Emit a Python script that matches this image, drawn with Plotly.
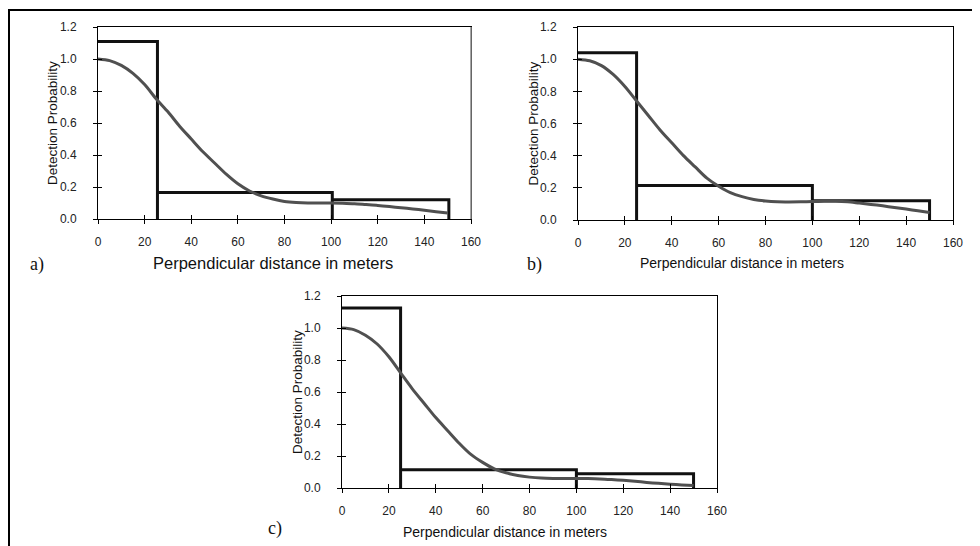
import plotly.graph_objects as go

# distance grid (m) and fitted detection curves
dist = list(range(0, 155, 5))
g_a = [1.0, 0.99, 0.96, 0.91, 0.84, 0.75, 0.67, 0.58, 0.50, 0.42, 0.35, 0.28, 0.22, 0.175, 0.145, 0.125,
       0.11, 0.103, 0.1, 0.1, 0.1, 0.098, 0.095, 0.09, 0.085, 0.078, 0.07, 0.063, 0.055, 0.046, 0.037]
g_b = [1.0, 0.99, 0.96, 0.905, 0.83, 0.74, 0.65, 0.56, 0.48, 0.40, 0.33, 0.26, 0.21, 0.17, 0.145, 0.128,
       0.118, 0.113, 0.112, 0.113, 0.115, 0.117, 0.117, 0.113, 0.105, 0.097, 0.088, 0.078, 0.068, 0.057, 0.046]
g_c = [1.0, 0.99, 0.955, 0.9, 0.82, 0.72, 0.62, 0.53, 0.44, 0.36, 0.28, 0.21, 0.16, 0.12, 0.095, 0.078,
       0.068, 0.062, 0.06, 0.06, 0.06, 0.059, 0.057, 0.053, 0.048, 0.042, 0.035, 0.029, 0.024, 0.019, 0.015]

# histogram bins (scaled frequencies)
edges_a = [0, 25.5, 100.5, 150.5]
edges = [0, 25, 100, 150]
bars_a = [1.11, 0.165, 0.12]
bars_b = [1.04, 0.214, 0.12]
bars_c = [1.125, 0.114, 0.089]

# the page body has an 8px margin, so the figure is a bit smaller and
# positions are given in page pixels then converted
W, H, OFF = 972, 538, 8


def px(x):
    return (x - OFF) / W


def py(y):
    return 1 - (y - OFF) / H


# label, edges, bars, curve, plot box (left, right, top, bottom) in page px,
# title x, title y, title size, panel letter pos
panels = [
    ('a)', edges_a, bars_a, g_a, (98, 471, 27, 219), 273, 263, 16.5, (37, 264)),
    ('b)', edges, bars_b, g_b, (578, 953, 27, 220), 742, 263, 14, (534, 264)),
    ('c)', edges, bars_c, g_c, (342, 717, 296, 488), 505, 532, 14, (275, 528)),
]


def step_path(e, h):
    xs = [e[0], e[1], e[1]]
    ys = [h[0], h[0], 0]
    for i in range(1, len(h)):
        xs += [e[i], e[i + 1], e[i + 1]]
        ys += [h[i], h[i], 0]
    return xs, ys


fig = go.Figure()
tickfont = dict(family='Liberation Sans, Arial', size=12, color='#222')
annots = []
shapes = []

for i, (lab, e, h, g, box, tx, ty, tsize, lpos) in enumerate(panels):
    n = i + 1
    sx = '' if n == 1 else str(n)
    ox = str(n + 3)
    dx = [px(box[0]), px(box[1])]
    dy = [py(box[3]), py(box[2])]
    xs, ys = step_path(e, h)
    fig.add_trace(go.Scatter(x=xs, y=ys, mode='lines', line=dict(color='#111', width=3),
                             xaxis='x' + sx, yaxis='y' + sx, showlegend=False, hoverinfo='skip'))
    fig.add_trace(go.Scatter(x=dist, y=g, mode='lines', line=dict(color='#505050', width=3, shape='spline',
                                                                  smoothing=0.8),
                             xaxis='x' + sx, yaxis='y' + sx, showlegend=False))
    # invisible trace so the inner-tick overlay axes get drawn
    fig.add_trace(go.Scatter(x=[0], y=[0], mode='markers', marker=dict(opacity=0),
                             xaxis='x' + ox, yaxis='y' + ox, showlegend=False, hoverinfo='skip'))

    fig.layout['xaxis' + sx] = dict(domain=dx, anchor='y' + sx, range=[0, 160], dtick=20, automargin=False,
                                    showgrid=False, zeroline=False, showline=True, linecolor='black',
                                    linewidth=1, mirror=True, ticks='outside', ticklen=4, tickcolor='black',
                                    tickfont=tickfont, ticklabelstandoff=8)
    fig.layout['yaxis' + sx] = dict(domain=dy, anchor='x' + sx, range=[0, 1.2], dtick=0.2, tickformat='.1f',
                                    automargin=False,
                                    showgrid=False, zeroline=False, showline=True, linecolor='black',
                                    linewidth=1, mirror=True, ticks='outside', ticklen=4, tickcolor='black',
                                    tickfont=tickfont, ticklabelstandoff=14)
    fig.layout['xaxis' + ox] = dict(overlaying='x' + sx, anchor='y' + ox, range=[0, 160], dtick=20,
                                    automargin=False,
                                    showgrid=False, zeroline=False, showline=False, ticks='inside',
                                    ticklen=4, tickcolor='black', showticklabels=False)
    fig.layout['yaxis' + ox] = dict(overlaying='y' + sx, anchor='x' + ox, range=[0, 1.2], dtick=0.2,
                                    automargin=False,
                                    showgrid=False, zeroline=False, showline=False, ticks='inside',
                                    ticklen=4, tickcolor='black', showticklabels=False)

    # axis titles and panel letter
    annots.append(dict(text='Perpendicular distance in meters', x=px(tx), y=py(ty), xref='paper', yref='paper',
                       xanchor='center', yanchor='middle', showarrow=False,
                       font=dict(family='Liberation Sans, Arial', size=tsize, color='#111')))
    annots.append(dict(text='Detection Probability', x=px(box[0] - 45), y=py((box[2] + box[3]) / 2),
                       xref='paper', yref='paper', xanchor='center', yanchor='middle', textangle=-90,
                       showarrow=False, font=dict(family='Liberation Sans, Arial', size=13.5, color='#111')))
    annots.append(dict(text=lab, x=px(lpos[0]), y=py(lpos[1]), xref='paper', yref='paper',
                       xanchor='center', yanchor='middle', showarrow=False,
                       font=dict(family='Liberation Serif, Times New Roman', size=18, color='#111')))

# right edge of panel a is grey in the original
shapes.append(dict(type='line', xref='paper', yref='paper', x0=px(471), x1=px(471), y0=py(219), y1=py(27),
                   line=dict(color='#888', width=1.5)))
# outer frame (top and left)
shapes.append(dict(type='line', xref='paper', yref='paper', x0=0, x1=1, y0=py(10), y1=py(10),
                   line=dict(color='black', width=2)))
shapes.append(dict(type='line', xref='paper', yref='paper', x0=px(9), x1=px(9), y0=0, y1=py(10),
                   line=dict(color='black', width=2)))

fig.update_layout(width=W, height=H, margin=dict(l=0, r=0, t=0, b=0),
                  paper_bgcolor='white', plot_bgcolor='white', annotations=annots, shapes=shapes)

fig.write_html("out.html")
